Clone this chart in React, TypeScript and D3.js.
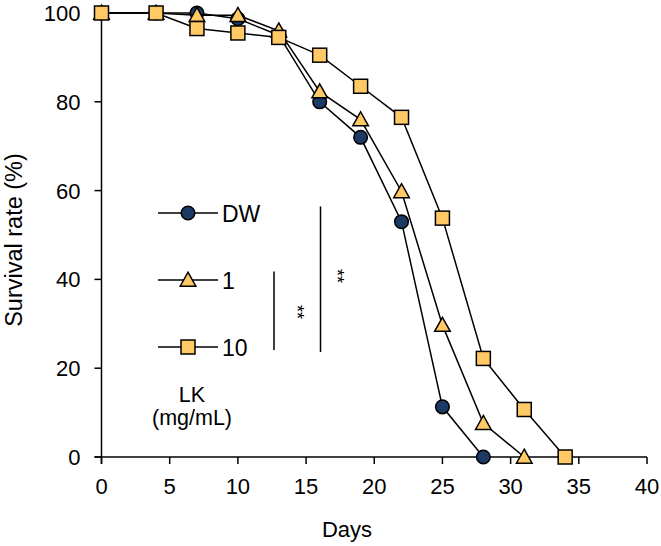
import React from "react";
import * as d3 from "d3";

// survival data
const days = [0, 4, 7, 10, 13, 16, 19, 22, 25, 28, 31, 34];
const dwValues = [100, 100, 100, 98.7, 95, 80, 72, 53, 11.3, 0];
const lk1Values = [100, 100, 99.5, 99.5, 96, 82.3, 76, 59.8, 29.7, 7.6, 0];
const lk10Values = [100, 100, 96.5, 95.5, 94.5, 90.5, 83.5, 76.5, 53.8, 22.2, 10.7, 0];
const xTicks = [0, 5, 10, 15, 20, 25, 30, 35, 40];
const yTicks = [0, 20, 40, 60, 80, 100];

const navy = "#1c3a64";
const gold = "#ffc965";
const font = "'Liberation Sans', Arial, sans-serif";

const width = 661;
const height = 546;
const margin = { top: 13, right: 14, bottom: 89, left: 101.5 };

type Pt = { x: number; y: number };

const toPts = (vals: number[]): Pt[] => vals.map((v, i) => ({ x: days[i], y: v }));

const Marker = ({ kind, cx, cy }: { kind: string; cx: number; cy: number }) => {
  if (kind === "circle") {
    return <circle cx={cx} cy={cy} r={6.8} fill={navy} stroke="#000" strokeWidth={1.5} />;
  }
  if (kind === "triangle") {
    const s = 7.8;
    const pts = `${cx},${cy - s} ${cx + s},${cy + s * 0.8} ${cx - s},${cy + s * 0.8}`;
    return <polygon points={pts} fill={gold} stroke="#000" strokeWidth={1.5} />;
  }
  return <rect x={cx - 7} y={cy - 7} width={14} height={14} fill={gold} stroke="#000" strokeWidth={1.5} />;
};

const App = () => {
  const x = d3.scaleLinear().domain([0, 40]).range([margin.left, width - margin.right]);
  const y = d3.scaleLinear().domain([0, 100]).range([height - margin.bottom, margin.top]);
  const line = d3.line<Pt>().x((d) => x(d.x)).y((d) => y(d.y));

  const series = [
    { name: "DW", kind: "circle", pts: toPts(dwValues) },
    { name: "1", kind: "triangle", pts: toPts(lk1Values) },
    { name: "10", kind: "square", pts: toPts(lk10Values) },
  ];

  const x0 = y(0);
  const legendY = [213, 280, 347];

  return (
    <svg width={width} height={height} style={{ position: "absolute", left: 0, top: 0 }} fontFamily={font}>
      {/* axes */}
      <line x1={x(0) - 7} x2={x(40)} y1={x0} y2={x0} stroke="#000" strokeWidth={1.5} />
      <line x1={x(0)} x2={x(0)} y1={y(0) + 7} y2={y(100)} stroke="#000" strokeWidth={1.5} />
      {xTicks.map((t) => (
        <g key={"x" + t}>
          <line x1={x(t)} x2={x(t)} y1={x0} y2={x0 + 7} stroke="#000" strokeWidth={1.5} />
          <text x={x(t)} y={x0 + 37} fontSize={22} textAnchor="middle">{t}</text>
        </g>
      ))}
      {yTicks.map((t) => (
        <g key={"y" + t}>
          <line x1={x(0) - 7} x2={x(0)} y1={y(t)} y2={y(t)} stroke="#000" strokeWidth={1.5} />
          <text x={x(0) - 21} y={y(t) + 8} fontSize={22} textAnchor="end">{t}</text>
        </g>
      ))}
      <text x={347} y={537} fontSize={22} textAnchor="middle">Days</text>
      <text transform={`translate(22,240) rotate(-90)`} fontSize={23.5} textAnchor="middle">Survival rate (%)</text>

      {/* series */}
      {series.map((s) => (
        <g key={s.name}>
          <path d={line(s.pts) || ""} fill="none" stroke="#000" strokeWidth={1.5} />
          {s.pts.map((p, i) => (
            <Marker key={i} kind={s.kind} cx={x(p.x)} cy={y(p.y)} />
          ))}
        </g>
      ))}

      {/* legend */}
      {series.map((s, i) => (
        <g key={"lg" + s.name}>
          <line x1={158} x2={218} y1={legendY[i]} y2={legendY[i]} stroke="#000" strokeWidth={1.5} />
          <Marker kind={s.kind} cx={188} cy={legendY[i]} />
          <text x={222} y={legendY[i] + 8.5} fontSize={23}>{s.name}</text>
        </g>
      ))}
      <text x={192} y={402} fontSize={21.5} textAnchor="middle">LK</text>
      <text x={192} y={425} fontSize={21.5} textAnchor="middle">(mg/mL)</text>

      {/* significance */}
      <line x1={274} x2={274} y1={271.5} y2={350} stroke="#000" strokeWidth={1.5} />
      <line x1={320.5} x2={320.5} y1={206.5} y2={352} stroke="#000" strokeWidth={1.5} />
      <text transform="translate(291,312) rotate(90)" fontSize={18} textAnchor="middle">**</text>
      <text transform="translate(331,276) rotate(90)" fontSize={18} textAnchor="middle">**</text>
    </svg>
  );
};

export default App;
